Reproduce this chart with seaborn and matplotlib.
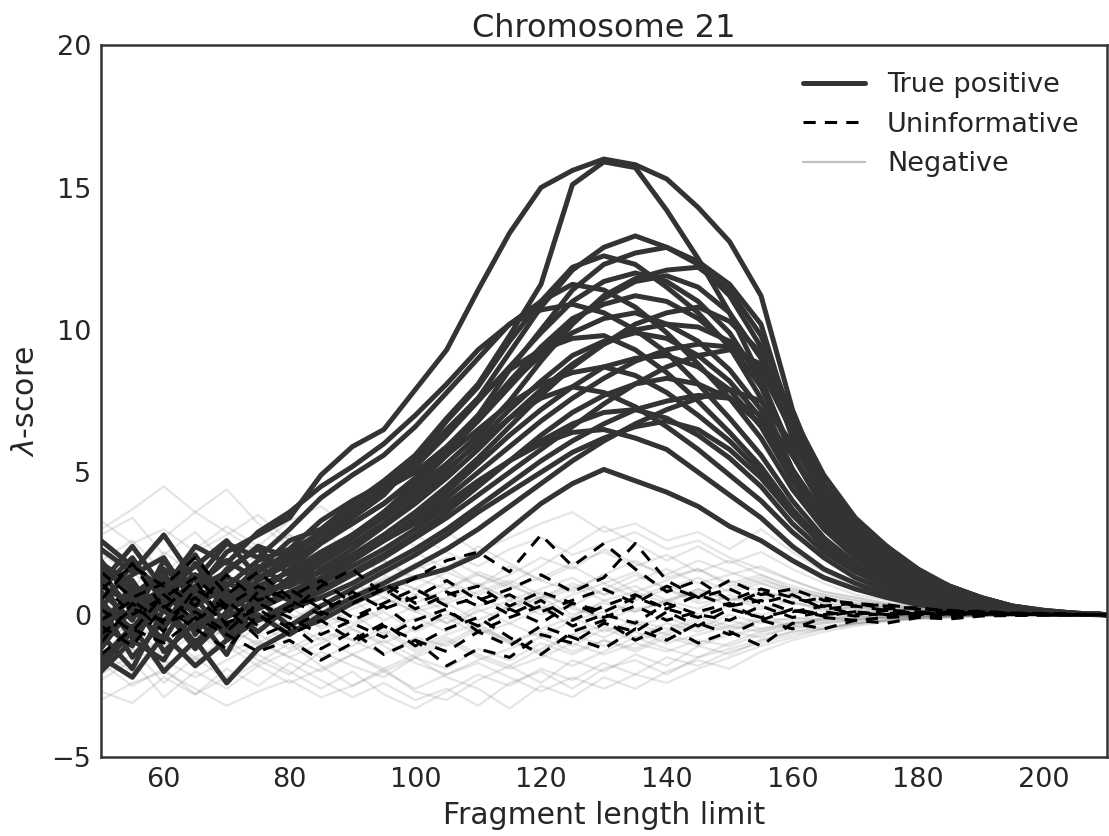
import pandas as pd
import seaborn as sns
import matplotlib.pyplot as plt
from matplotlib.lines import Line2D

# fragment length grid (every 5 bp)
lengths = list(range(50, 211, 5))

# true positive curves (lambda-score)
true_pos = [
    [1.0, 0.4, 1.6, 0.8, 2.2, 2.8, 3.4, 4.9, 5.9, 6.5, 7.9, 9.3, 11.4, 13.4, 15.0, 15.6, 16.0, 15.8, 15.3, 14.3, 13.1, 11.2, 7.2, 4.5, 3.2, 2.4, 1.6, 1.0, 0.6, 0.3, 0.15, 0.05, 0.0],
    [-0.6, 0.9, 0.1, 1.3, 0.5, 1.6, 2.6, 3.0, 3.9, 4.7, 5.6, 6.9, 8.1, 9.8, 11.6, 15.1, 15.9, 15.7, 14.2, 12.5, 10.6, 8.3, 5.6, 3.7, 2.5, 1.7, 1.1, 0.7, 0.4, 0.2, 0.1, 0.03, 0.0],
    [0.5, -0.8, 1.2, 0.3, 1.0, 1.9, 2.3, 3.3, 4.0, 4.6, 5.2, 6.4, 7.6, 9.2, 10.8, 12.1, 12.9, 13.3, 12.9, 12.3, 11.2, 9.4, 6.2, 4.0, 2.7, 1.9, 1.2, 0.8, 0.45, 0.25, 0.1, 0.04, 0.0],
    [1.8, 1.1, -0.3, 0.9, 1.5, 2.4, 2.0, 2.9, 3.6, 4.4, 5.0, 5.9, 7.0, 8.6, 10.0, 11.4, 12.3, 12.7, 12.9, 12.4, 11.6, 10.2, 6.6, 4.2, 3.0, 2.3, 1.5, 1.0, 0.6, 0.3, 0.15, 0.05, 0.0],
    [-1.2, 0.3, 0.9, -0.5, 0.4, 1.2, 1.8, 2.6, 3.4, 4.2, 5.4, 6.8, 8.0, 9.6, 11.0, 12.2, 12.6, 12.3, 11.5, 10.6, 9.4, 7.6, 5.1, 3.4, 2.3, 1.6, 1.0, 0.6, 0.35, 0.2, 0.08, 0.03, 0.0],
    [0.2, 1.8, 0.7, 1.4, 0.2, 1.0, 1.5, 2.2, 2.8, 3.5, 4.4, 5.3, 6.3, 7.5, 8.9, 10.2, 11.2, 11.8, 12.1, 12.2, 11.4, 9.8, 6.9, 4.4, 3.1, 2.2, 1.4, 0.9, 0.55, 0.3, 0.12, 0.05, 0.0],
    [2.3, 1.5, 2.8, 1.2, 2.5, 2.0, 3.0, 4.1, 4.9, 5.6, 6.6, 7.8, 9.0, 10.2, 11.0, 11.6, 11.4, 10.8, 9.9, 8.8, 7.6, 6.2, 4.4, 3.0, 2.0, 1.3, 0.8, 0.5, 0.3, 0.15, 0.06, 0.02, 0.0],
    [-1.8, -0.6, 0.4, -1.0, 0.1, 0.8, 1.1, 1.9, 2.7, 3.6, 4.5, 5.6, 6.9, 8.2, 9.4, 10.4, 10.9, 11.2, 11.0, 10.4, 9.5, 8.0, 5.6, 3.8, 2.6, 1.8, 1.1, 0.7, 0.4, 0.2, 0.1, 0.03, 0.0],
    [0.8, -0.2, 1.9, 0.6, 1.1, 0.7, 1.6, 2.5, 3.2, 3.9, 4.8, 5.8, 7.0, 8.1, 9.1, 9.9, 10.4, 10.6, 10.2, 9.6, 8.6, 7.2, 5.0, 3.3, 2.2, 1.5, 0.9, 0.55, 0.3, 0.15, 0.07, 0.02, 0.0],
    [-0.9, 1.2, -0.4, 0.5, 1.3, 0.9, 0.6, 1.6, 2.3, 3.1, 3.9, 4.8, 5.8, 6.9, 7.9, 8.8, 9.5, 10.0, 10.2, 10.1, 9.6, 8.6, 6.4, 4.3, 3.0, 2.1, 1.3, 0.8, 0.5, 0.25, 0.1, 0.04, 0.0],
    [1.5, 0.1, 0.8, 2.1, 0.4, 1.5, 2.2, 2.9, 3.7, 4.5, 5.4, 6.5, 7.6, 8.6, 9.3, 9.7, 9.8, 9.3, 8.5, 7.5, 6.4, 5.2, 3.7, 2.5, 1.7, 1.1, 0.7, 0.4, 0.25, 0.12, 0.05, 0.02, 0.0],
    [0.3, -1.5, -0.2, 0.6, -0.8, 0.3, 0.8, 1.3, 1.9, 2.6, 3.3, 4.1, 5.0, 5.9, 6.8, 7.6, 8.3, 8.9, 9.3, 9.5, 9.4, 8.7, 6.8, 4.6, 3.2, 2.2, 1.4, 0.9, 0.55, 0.28, 0.12, 0.04, 0.0],
    [-2.0, -0.9, -1.6, 0.2, -0.5, 0.2, 0.7, 1.2, 1.9, 2.6, 3.4, 4.3, 5.3, 6.3, 7.2, 8.0, 8.7, 9.0, 9.1, 8.7, 7.9, 6.6, 4.7, 3.1, 2.1, 1.4, 0.9, 0.55, 0.3, 0.15, 0.06, 0.02, 0.0],
    [1.1, 2.4, 0.9, 1.7, 2.6, 1.3, 1.9, 2.6, 3.2, 3.9, 4.7, 5.6, 6.5, 7.4, 8.1, 8.5, 8.7, 8.4, 7.8, 7.0, 6.1, 5.0, 3.6, 2.5, 1.7, 1.1, 0.7, 0.4, 0.22, 0.1, 0.04, 0.01, 0.0],
    [-0.4, 0.6, -1.3, -0.3, 0.9, -0.2, 0.4, 0.9, 1.5, 2.1, 2.8, 3.6, 4.5, 5.4, 6.3, 7.1, 7.7, 8.1, 8.3, 8.1, 7.6, 6.7, 5.1, 3.5, 2.4, 1.6, 1.0, 0.6, 0.35, 0.18, 0.07, 0.03, 0.0],
    [0.6, 1.4, 2.0, 0.3, 1.6, 2.3, 1.4, 2.0, 2.7, 3.4, 4.2, 5.1, 6.0, 6.9, 7.6, 8.0, 7.8, 7.3, 6.6, 5.8, 4.9, 4.0, 2.9, 2.0, 1.3, 0.85, 0.5, 0.3, 0.17, 0.08, 0.03, 0.01, 0.0],
    [-1.5, -2.2, -0.7, -1.8, -0.9, -0.2, 0.2, 0.6, 1.1, 1.7, 2.3, 3.0, 3.8, 4.6, 5.4, 6.1, 6.7, 7.2, 7.5, 7.7, 7.6, 7.0, 5.6, 3.9, 2.7, 1.8, 1.1, 0.7, 0.4, 0.2, 0.08, 0.03, 0.0],
    [1.9, 0.5, 1.3, -0.6, 0.7, 1.0, 0.5, 1.1, 1.7, 2.3, 3.0, 3.8, 4.6, 5.4, 6.1, 6.7, 7.1, 7.2, 6.9, 6.3, 5.5, 4.5, 3.2, 2.2, 1.5, 1.0, 0.6, 0.35, 0.2, 0.1, 0.04, 0.01, 0.0],
    [-0.7, -1.9, 0.2, -1.2, -0.1, 0.5, -0.4, 0.3, 0.9, 1.5, 2.1, 2.8, 3.6, 4.3, 5.0, 5.7, 6.2, 6.6, 6.8, 6.5, 5.8, 4.8, 3.5, 2.4, 1.6, 1.05, 0.65, 0.4, 0.22, 0.1, 0.04, 0.01, 0.0],
    [0.4, -0.5, 1.0, 0.0, -1.4, 0.6, 1.2, 1.5, 2.0, 2.6, 3.2, 3.9, 4.7, 5.4, 6.0, 6.4, 6.5, 6.2, 5.8, 5.0, 4.2, 3.4, 2.4, 1.6, 1.1, 0.7, 0.42, 0.25, 0.14, 0.07, 0.03, 0.01, 0.0],
    [-1.6, -0.4, -2.0, -0.9, -2.4, -1.2, -0.6, -0.2, 0.4, 0.9, 1.3, 1.6, 2.1, 3.0, 3.9, 4.6, 5.1, 4.7, 4.3, 3.8, 3.1, 2.6, 1.9, 1.3, 0.9, 0.6, 0.35, 0.2, 0.1, 0.05, 0.02, 0.01, 0.0],
    [2.6, 1.7, 0.9, 2.4, 1.8, 2.9, 3.6, 4.5, 5.2, 6.0, 7.0, 8.1, 9.3, 10.2, 10.7, 10.9, 10.6, 10.0, 9.2, 8.1, 6.9, 5.6, 4.0, 2.7, 1.8, 1.2, 0.75, 0.45, 0.25, 0.12, 0.05, 0.02, 0.0],
    [-0.2, 0.7, 1.5, -0.7, 0.8, 0.4, 1.3, 2.0, 2.8, 3.6, 4.6, 5.7, 6.8, 8.0, 9.2, 10.3, 11.1, 11.7, 11.9, 11.5, 10.6, 9.0, 6.3, 4.1, 2.8, 2.0, 1.25, 0.8, 0.45, 0.22, 0.1, 0.03, 0.0],
    [1.3, -0.8, 0.5, 1.8, 0.2, -0.6, 0.3, 0.8, 1.4, 2.0, 2.7, 3.4, 4.2, 5.0, 5.8, 6.6, 7.4, 8.1, 8.7, 9.1, 9.3, 8.8, 7.0, 4.9, 3.4, 2.4, 1.5, 1.0, 0.6, 0.3, 0.13, 0.05, 0.0],
    [-1.0, 0.2, -0.9, 0.9, -0.3, 0.0, -0.7, 0.0, 0.6, 1.1, 1.7, 2.3, 3.0, 3.8, 4.6, 5.4, 6.1, 6.7, 7.2, 7.6, 7.9, 7.5, 6.0, 4.2, 2.9, 2.0, 1.25, 0.8, 0.45, 0.22, 0.1, 0.03, 0.0],
    [0.9, 2.0, 0.4, 1.0, 1.9, 1.2, 2.1, 2.8, 3.5, 4.3, 5.2, 6.3, 7.5, 8.7, 9.9, 11.0, 11.7, 12.0, 11.7, 11.0, 9.9, 8.2, 5.7, 3.8, 2.6, 1.8, 1.1, 0.7, 0.4, 0.2, 0.08, 0.03, 0.0],
    [-0.3, -1.1, 0.9, 0.1, -0.6, 0.8, 1.0, 1.5, 2.1, 2.8, 3.6, 4.5, 5.5, 6.6, 7.7, 8.7, 9.5, 10.2, 10.6, 10.8, 10.3, 9.2, 6.9, 4.6, 3.2, 2.2, 1.4, 0.9, 0.5, 0.25, 0.1, 0.04, 0.0],
    [1.6, 0.9, -0.5, 1.4, 0.6, 1.7, 1.0, 1.8, 2.5, 3.2, 4.0, 5.0, 6.1, 7.2, 8.2, 9.1, 9.6, 9.9, 9.7, 9.1, 8.2, 6.9, 4.9, 3.3, 2.2, 1.5, 0.9, 0.55, 0.3, 0.15, 0.06, 0.02, 0.0],
]

# uninformative curves
uninformative = [
    [0.5, 1.8, 0.2, 1.2, -0.4, 0.8, 0.1, 1.0, 1.6, 0.7, 1.3, 1.9, 2.2, 1.5, 2.8, 1.7, 2.5, 1.6, 0.8, 1.2, 0.5, 0.9, 0.6, 0.3, 0.4, 0.2, 0.25, 0.1, 0.12, 0.05, 0.04, 0.01, 0.0],
    [-1.0, 0.4, -0.6, 0.9, 0.2, -0.8, -0.3, -1.2, -0.6, -1.4, -0.9, -1.8, -1.2, -1.5, -0.7, -1.0, -0.3, -0.6, 0.1, -0.4, 0.2, -0.1, 0.15, -0.05, 0.1, 0.0, 0.05, 0.02, 0.03, 0.0, 0.01, 0.0, 0.0],
    [1.5, 0.6, 1.1, 0.3, 1.4, 0.5, 0.9, 0.2, 0.6, 1.1, 0.4, 0.8, 0.3, 0.7, 0.1, 0.5, 0.9, 0.4, 1.0, 0.6, 1.2, 0.7, 0.9, 0.5, 0.4, 0.3, 0.2, 0.15, 0.08, 0.05, 0.02, 0.01, 0.0],
    [-0.4, -1.1, 0.3, -0.5, -1.2, 0.0, -0.7, -0.2, -0.9, -0.3, -1.1, -0.5, -0.1, -0.8, -1.4, -0.6, -0.2, -0.9, -0.4, -1.0, -0.6, -1.1, -0.3, -0.5, -0.2, -0.3, -0.1, -0.15, -0.05, -0.03, -0.02, 0.0, 0.0],
    [0.9, 1.7, 1.0, 2.0, 0.7, 1.5, 0.6, 1.2, 0.4, 0.9, 0.2, 0.7, 1.0, 0.3, 0.8, 0.4, 0.1, 0.6, 0.2, 0.7, 0.3, 0.8, 0.4, 0.6, 0.3, 0.35, 0.2, 0.12, 0.1, 0.05, 0.03, 0.01, 0.0],
    [-0.2, 0.5, -0.3, 0.1, -0.6, 0.4, -0.1, -0.7, -0.2, 0.3, -0.5, 0.1, -0.4, 0.2, -0.3, 0.4, -0.1, 0.3, -0.2, 0.1, 0.4, -0.2, 0.2, 0.0, 0.1, -0.05, 0.05, 0.0, 0.02, 0.0, 0.01, 0.0, 0.0],
    [0.2, -0.6, 0.7, -0.2, 0.5, -0.4, 0.3, 0.6, -0.1, 0.4, 0.9, 0.3, 0.6, 0.0, 0.5, -0.2, 0.3, 0.7, 0.2, -0.1, 0.3, 0.5, 0.1, 0.3, 0.0, 0.15, 0.05, 0.1, 0.02, 0.03, 0.0, 0.0, 0.0],
    [-1.4, -0.5, -1.0, -0.1, -0.7, -1.3, -0.9, -1.6, -1.0, -0.4, -0.9, -1.3, -0.6, -1.1, -0.4, -0.8, -1.2, -0.5, -0.9, -0.3, -0.7, -0.2, -0.5, -0.1, -0.2, -0.1, -0.05, -0.08, 0.0, -0.02, 0.0, 0.0, 0.0],
    [1.1, 0.0, 0.6, 1.3, 0.3, 1.0, 0.5, 0.0, 0.8, 0.2, 0.6, 1.2, 0.5, 0.9, 1.4, 0.8, 1.3, 2.5, 1.2, 0.6, 0.9, 0.4, 0.7, 0.2, 0.3, 0.15, 0.1, 0.05, 0.05, 0.02, 0.01, 0.0, 0.0],
    [-0.7, 0.2, -0.2, 0.6, -0.3, 0.2, -0.5, 0.1, -0.3, -0.8, -0.2, 0.2, -0.6, -0.1, 0.3, -0.4, 0.0, -0.3, 0.4, 0.0, -0.2, 0.3, -0.1, 0.1, -0.05, 0.05, 0.0, 0.02, 0.0, 0.0, 0.0, 0.0, 0.0],
]

# negative curves (faint background)
negative = [
    [0.3, -0.5, 0.8, 0.1, -0.4, 0.6, -0.2, 0.4, -0.3, 0.2, 0.7, 0.1, -0.4, 0.3, 0.8, 0.2, -0.1, 0.5, 0.9, 0.4, 0.6, 0.2, 0.5, 0.1, 0.3, 0.1, 0.15, 0.05, 0.08, 0.03, 0.02, 0.0, 0.0],
    [-0.8, -0.2, -1.1, -0.5, 0.1, -0.7, -1.2, -0.6, -0.9, -1.4, -0.8, -1.1, -0.5, -0.9, -1.3, -0.7, -0.4, -0.8, -0.3, -0.6, -0.2, -0.5, -0.3, -0.1, -0.2, -0.1, -0.05, -0.05, 0.0, -0.02, 0.0, 0.0, 0.0],
    [1.6, 0.9, 2.2, 1.4, 0.7, 1.2, 1.8, 1.1, 0.6, 1.3, 0.9, 1.5, 1.0, 1.7, 1.2, 0.8, 1.4, 1.9, 1.3, 1.6, 1.1, 1.4, 0.9, 0.7, 0.5, 0.35, 0.2, 0.15, 0.08, 0.05, 0.02, 0.01, 0.0],
    [-1.9, -1.2, -2.4, -1.5, -0.9, -1.6, -2.1, -1.3, -1.8, -2.2, -1.5, -1.9, -1.2, -1.6, -1.0, -1.4, -0.9, -1.2, -0.7, -1.0, -0.6, -0.8, -0.4, -0.5, -0.3, -0.2, -0.15, -0.1, -0.05, -0.03, -0.01, 0.0, 0.0],
    [2.8, 3.4, 2.1, 2.9, 1.8, 2.5, 1.6, 2.2, 1.4, 1.9, 1.2, 1.7, 1.0, 1.4, 2.0, 1.6, 2.3, 1.8, 1.4, 1.9, 1.5, 1.1, 0.8, 0.6, 0.4, 0.3, 0.2, 0.1, 0.06, 0.03, 0.02, 0.0, 0.0],
    [-2.7, -3.1, -2.2, -2.8, -1.9, -2.5, -1.7, -2.3, -2.9, -2.4, -3.0, -2.6, -3.2, -2.4, -2.0, -2.6, -1.9, -1.6, -2.1, -1.5, -1.2, -0.9, -0.6, -0.5, -0.3, -0.2, -0.12, -0.08, -0.04, -0.02, 0.0, 0.0, 0.0],
    [0.9, 1.5, 0.6, 1.1, 1.9, 1.3, 0.8, 1.6, 2.1, 1.4, 0.9, 0.5, 1.0, 0.6, 0.2, 0.7, 1.1, 0.6, 1.0, 0.7, 1.2, 0.8, 0.6, 0.4, 0.25, 0.2, 0.1, 0.08, 0.04, 0.02, 0.01, 0.0, 0.0],
    [-0.3, 0.4, -0.6, 0.2, -0.9, -0.2, 0.3, -0.5, 0.0, -0.7, -0.1, -0.6, 0.2, -0.3, -0.8, -0.2, 0.1, -0.4, -0.1, -0.5, 0.0, -0.3, -0.1, -0.2, 0.0, -0.1, -0.02, -0.04, 0.0, 0.0, 0.0, 0.0, 0.0],
    [2.2, 1.3, 2.7, 3.6, 4.4, 3.2, 2.4, 3.0, 2.1, 1.5, 2.2, 1.6, 2.4, 1.8, 1.2, 1.7, 1.1, 1.5, 0.9, 1.3, 0.8, 1.1, 0.7, 0.5, 0.35, 0.25, 0.15, 0.1, 0.05, 0.03, 0.01, 0.0, 0.0],
    [-1.3, -2.0, -0.8, -1.5, -2.3, -1.7, -1.0, -1.8, -2.5, -1.9, -2.7, -3.0, -2.3, -1.8, -2.4, -1.6, -2.0, -1.4, -1.8, -1.1, -1.4, -0.9, -0.6, -0.4, -0.3, -0.2, -0.1, -0.07, -0.03, -0.02, 0.0, 0.0, 0.0],
    [0.6, -0.1, 0.2, 0.9, 0.3, -0.4, 0.5, 1.0, 0.4, 0.8, 0.2, 0.6, 1.1, 0.5, 0.9, 1.3, 0.7, 1.0, 0.5, 0.8, 0.3, 0.6, 0.4, 0.2, 0.2, 0.1, 0.08, 0.04, 0.02, 0.01, 0.0, 0.0, 0.0],
    [-0.5, -1.0, -0.2, -0.8, -0.3, -1.1, -0.6, -0.2, -0.9, -0.5, -1.2, -0.7, -0.3, -1.0, -0.6, -1.1, -0.5, -0.9, -0.6, -0.2, -0.5, -0.2, -0.3, -0.15, -0.1, -0.05, -0.05, 0.0, -0.02, 0.0, 0.0, 0.0, 0.0],
    [3.3, 2.5, 3.0, 2.2, 2.8, 3.5, 2.6, 1.9, 2.5, 3.1, 2.4, 2.9, 2.2, 2.7, 3.2, 3.6, 2.9, 3.2, 2.6, 2.9, 2.3, 3.0, 2.2, 1.5, 1.0, 0.6, 0.4, 0.25, 0.12, 0.06, 0.03, 0.01, 0.0],
    [-2.3, -1.6, -2.9, -2.0, -2.6, -1.8, -2.4, -1.9, -1.4, -2.0, -1.5, -2.2, -2.6, -3.3, -2.5, -2.9, -2.2, -2.6, -2.0, -1.6, -1.9, -1.3, -0.9, -0.6, -0.4, -0.25, -0.15, -0.1, -0.05, -0.02, 0.0, 0.0, 0.0],
    [1.2, 0.5, 1.7, 0.8, 1.4, 2.1, 2.8, 2.2, 1.5, 1.0, 1.6, 2.0, 1.4, 0.9, 1.3, 1.8, 2.2, 1.7, 2.1, 1.5, 1.9, 1.4, 1.0, 0.7, 0.5, 0.35, 0.2, 0.12, 0.07, 0.03, 0.02, 0.0, 0.0],
    [-1.0, -0.3, -1.5, -0.6, -1.2, -0.4, -0.9, -1.5, -1.1, -0.6, -1.3, -0.8, -1.4, -1.8, -1.2, -0.7, -1.1, -0.6, -1.0, -0.7, -0.4, -0.6, -0.3, -0.2, -0.15, -0.1, -0.05, -0.03, -0.01, 0.0, 0.0, 0.0, 0.0],
    [0.0, 0.7, 1.3, 0.5, 1.0, 0.2, 0.8, 0.3, 1.1, 0.6, 0.1, 0.4, -0.2, 0.3, 0.6, 0.0, 0.4, 0.1, 0.5, 0.2, 0.7, 0.3, 0.1, 0.2, 0.05, 0.1, 0.03, 0.05, 0.01, 0.0, 0.0, 0.0, 0.0],
    [-1.7, -2.5, -1.9, -2.8, -2.2, -1.4, -2.0, -2.6, -2.0, -2.8, -3.3, -2.7, -2.1, -2.5, -1.9, -2.3, -1.7, -2.1, -1.5, -1.8, -1.3, -1.0, -0.7, -0.5, -0.3, -0.2, -0.12, -0.06, -0.03, -0.01, 0.0, 0.0, 0.0],
    [1.9, 2.6, 1.5, 2.3, 3.1, 2.4, 3.3, 3.8, 3.0, 2.3, 2.8, 2.2, 1.7, 2.3, 2.7, 2.1, 2.5, 2.9, 2.3, 2.6, 2.0, 1.6, 1.2, 0.8, 0.6, 0.4, 0.25, 0.15, 0.08, 0.04, 0.02, 0.0, 0.0],
    [-0.1, -0.8, 0.4, -0.3, 0.6, 0.0, -0.5, 0.1, 0.5, -0.2, 0.3, -0.3, 0.1, 0.5, 0.0, 0.3, -0.2, 0.2, 0.4, 0.0, 0.3, 0.0, 0.2, 0.0, 0.1, 0.0, 0.03, 0.0, 0.01, 0.0, 0.0, 0.0, 0.0],
    [-3.0, -2.4, -2.0, -2.6, -3.2, -2.7, -2.3, -2.9, -2.5, -2.0, -2.6, -2.1, -1.7, -2.2, -2.7, -2.2, -2.6, -2.1, -2.4, -1.9, -1.5, -1.1, -0.8, -0.5, -0.35, -0.2, -0.12, -0.07, -0.03, -0.01, 0.0, 0.0, 0.0],
    [0.8, 0.2, -0.3, 0.4, 0.9, 0.5, 0.0, -0.4, 0.2, 0.6, 0.1, -0.3, 0.3, 0.7, 0.3, -0.1, 0.5, 0.8, 0.4, 0.9, 0.5, 0.7, 0.4, 0.3, 0.2, 0.1, 0.1, 0.05, 0.02, 0.01, 0.0, 0.0, 0.0],
    [2.5, 1.8, 1.1, 1.7, 2.4, 1.9, 1.3, 0.8, 1.4, 0.9, 0.4, 0.9, 1.4, 1.0, 0.6, 1.1, 0.7, 1.2, 1.6, 1.1, 1.4, 1.7, 1.2, 0.8, 0.6, 0.4, 0.25, 0.15, 0.08, 0.04, 0.02, 0.0, 0.0],
    [-1.2, -0.6, -0.1, -0.7, -1.3, -0.9, -1.5, -1.0, -0.5, -1.1, -1.7, -2.1, -1.6, -1.2, -0.8, -1.3, -0.9, -1.3, -0.8, -1.1, -0.7, -0.5, -0.3, -0.25, -0.15, -0.1, -0.05, -0.03, -0.01, 0.0, 0.0, 0.0, 0.0],
    [0.4, 1.0, 0.3, -0.2, 0.5, 1.2, 0.6, 0.1, 0.7, 1.2, 0.7, 1.1, 0.6, 0.2, 0.6, 1.0, 0.5, 0.1, 0.5, 0.9, 0.5, 0.8, 0.6, 0.4, 0.3, 0.2, 0.1, 0.06, 0.03, 0.01, 0.0, 0.0, 0.0],
    [-0.6, 0.1, -0.4, -1.0, -0.5, 0.2, -0.3, -0.9, -0.4, 0.1, -0.6, -0.1, -0.7, -0.3, 0.2, -0.4, -0.8, -0.3, -0.7, -0.3, -0.6, -0.2, -0.4, -0.1, -0.1, -0.05, -0.03, -0.01, 0.0, 0.0, 0.0, 0.0, 0.0],
    [3.0, 3.7, 4.5, 3.6, 2.9, 2.2, 2.8, 2.0, 1.4, 1.9, 1.3, 0.9, 1.5, 1.1, 1.7, 2.4, 3.1, 2.5, 1.9, 2.4, 1.8, 2.2, 1.6, 1.1, 0.7, 0.5, 0.3, 0.2, 0.1, 0.05, 0.02, 0.0, 0.0],
    [-2.1, -1.4, -0.9, -1.6, -1.1, -1.8, -1.3, -0.8, -1.4, -1.9, -1.4, -0.9, -1.5, -1.9, -1.5, -1.0, -1.4, -1.0, -1.3, -0.9, -1.1, -0.7, -0.5, -0.3, -0.2, -0.12, -0.08, -0.04, -0.02, 0.0, 0.0, 0.0, 0.0],
    [1.4, 2.0, 1.2, 0.6, 1.1, 0.4, 1.0, 1.5, 0.8, 0.3, 0.9, 0.4, 0.8, 1.2, 0.7, 0.3, 0.9, 1.4, 0.9, 0.5, 0.9, 1.2, 0.9, 0.6, 0.4, 0.3, 0.15, 0.1, 0.05, 0.02, 0.01, 0.0, 0.0],
    [-0.4, -1.2, -1.8, -1.1, -0.5, -1.0, -0.4, 0.1, -0.5, -1.0, -0.5, 0.0, -0.5, -1.0, -0.5, -0.1, -0.6, -0.2, -0.5, -0.1, -0.4, -0.1, -0.2, 0.0, -0.05, 0.0, -0.02, 0.0, 0.0, 0.0, 0.0, 0.0, 0.0],
    [0.1, 0.6, 1.1, 1.7, 1.0, 1.5, 2.0, 1.3, 0.7, 1.2, 1.8, 1.2, 0.7, 1.1, 0.5, 0.9, 1.4, 0.8, 1.2, 1.6, 1.0, 1.3, 0.8, 0.6, 0.35, 0.25, 0.15, 0.08, 0.04, 0.02, 0.0, 0.0, 0.0],
    [-1.5, -0.9, -1.6, -2.2, -1.6, -1.0, -1.5, -2.0, -1.4, -0.9, -1.5, -1.0, -0.4, -0.9, -1.4, -1.8, -1.3, -0.8, -1.2, -1.5, -1.0, -0.6, -0.4, -0.3, -0.2, -0.1, -0.06, -0.03, -0.01, 0.0, 0.0, 0.0, 0.0],
]

# long-form table for seaborn
rows = []
for kind, curves in [("Negative", negative), ("True positive", true_pos), ("Uninformative", uninformative)]:
    for i, ys in enumerate(curves):
        assert len(ys) == len(lengths), (kind, i, len(ys))
        for x, y in zip(lengths, ys):
            rows.append({"length": x, "score": y, "curve": i, "kind": kind})
df = pd.DataFrame(rows)

sns.set_style("white")
plt.rcParams["axes.edgecolor"] = "#333333"
plt.rcParams["text.color"] = "#262626"
plt.rcParams["axes.labelcolor"] = "#262626"
plt.rcParams["xtick.color"] = "#262626"
plt.rcParams["ytick.color"] = "#262626"

fig, ax = plt.subplots(figsize=(11.09, 8.36), dpi=100)
fig.subplots_adjust(left=0.091, right=0.998, bottom=0.0945, top=0.946)

# negatives underneath, then true positives, dashed uninformative on top
sns.lineplot(data=df[df["kind"] == "Negative"], x="length", y="score", units="curve",
             estimator=None, color="#6a6a6a", alpha=0.17, lw=1.6, legend=False, ax=ax)
sns.lineplot(data=df[df["kind"] == "True positive"], x="length", y="score", units="curve",
             estimator=None, color="#333333", lw=3.6, legend=False, ax=ax)
sns.lineplot(data=df[df["kind"] == "Uninformative"], x="length", y="score", units="curve",
             estimator=None, color="black", lw=2.2, linestyle=(0, (4, 3)), legend=False, ax=ax)

ax.set_xlim(50, 210)
ax.set_ylim(-5, 20)
ax.set_yticks([-5, 0, 5, 10, 15, 20])
ax.set_xticks([60, 80, 100, 120, 140, 160, 180, 200])
ax.tick_params(labelsize=19.5)
for s in ax.spines.values():
    s.set_linewidth(1.8)

ax.set_title("Chromosome 21", fontsize=23, pad=6)
ax.set_xlabel("Fragment length limit", fontsize=21.5, labelpad=6)
ax.set_ylabel(r"$\lambda$-score", fontsize=21.5, labelpad=8)

handles = [
    Line2D([], [], color="#333333", lw=3.6),
    Line2D([], [], color="black", lw=2.2, linestyle=(0, (4, 3))),
    Line2D([], [], color="#bfbfbf", lw=1.6),
]
ax.legend(handles, ["True positive", "Uninformative", "Negative"], loc="upper right",
          frameon=False, fontsize=19.5, handlelength=2.3, borderaxespad=0.6)

fig.savefig("out.png", dpi=100)
print("Saved out.png")
